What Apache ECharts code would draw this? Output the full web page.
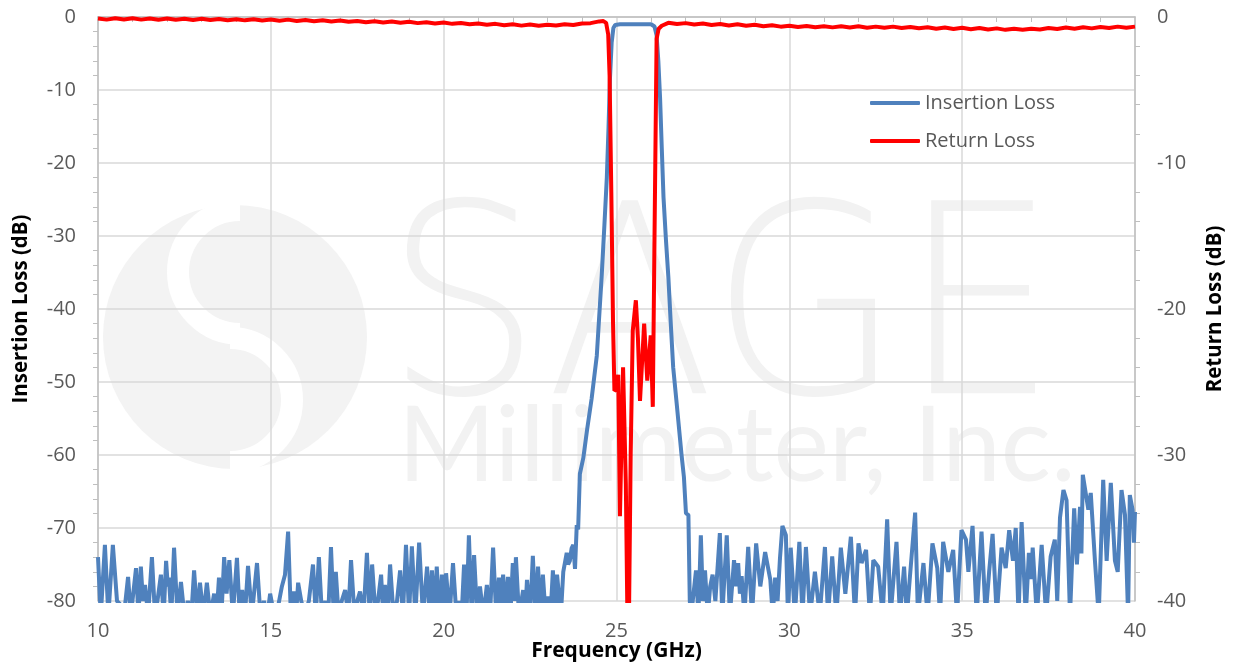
<!DOCTYPE html>
<html>
<head>
<meta charset="utf-8">
<script src="https://cdn.jsdelivr.net/npm/echarts@6/dist/echarts.min.js"></script>
<style>
  html, body { margin: 0; padding: 0; background: #fff; }
  #chart { width: 1236px; height: 664px; }
</style>
</head>
<body>
<div id="chart"></div>
<script>
  // insertion loss, [GHz, dB] - noise floor below passband
  var ilLow = [
    [10.00, -74], [10.08, -82], [10.20, -72.3], [10.30, -82], [10.43, -72.3], [10.55, -80], [10.65, -80.5],
    [10.75, -82], [10.87, -76.7], [10.95, -82], [11.10, -75.5], [11.17, -82], [11.24, -75.3], [11.30, -80],
    [11.36, -77.8], [11.45, -82], [11.56, -74], [11.65, -82], [11.72, -80], [11.82, -76.4], [11.90, -82],
    [11.97, -74.5], [12.02, -78], [12.05, -76.8], [12.12, -82], [12.20, -72.7], [12.30, -82], [12.40, -77.4],
    [12.50, -82], [12.60, -80], [12.70, -82], [12.78, -75.8], [12.87, -82], [12.95, -77.5], [13.05, -82],
    [13.15, -77.5], [13.25, -82], [13.36, -79], [13.43, -82], [13.50, -76.8], [13.57, -82], [13.65, -74],
    [13.72, -79], [13.80, -74.4], [13.90, -82], [14.02, -74.1], [14.10, -82], [14.17, -78.5], [14.25, -82],
    [14.34, -75.2], [14.45, -82], [14.60, -74.8], [14.70, -82], [14.80, -80], [14.90, -82], [14.98, -79],
    [15.10, -82], [15.20, -81], [15.32, -78], [15.41, -76.4], [15.50, -70.5], [15.58, -82], [15.67, -78.7],
    [15.73, -82], [15.79, -77.5], [15.88, -80], [15.98, -82], [16.10, -80], [16.22, -75], [16.30, -82],
    [16.39, -74], [16.48, -82], [16.58, -80], [16.66, -82], [16.74, -72.6], [16.82, -82], [16.88, -76],
    [16.96, -82], [17.05, -80], [17.15, -78.5], [17.24, -82], [17.32, -74.4], [17.42, -82], [17.50, -80],
    [17.58, -78.7], [17.68, -82], [17.78, -73.4], [17.86, -82], [17.93, -75], [18.03, -82], [18.10, -80],
    [18.19, -76.4], [18.25, -82], [18.30, -77.8], [18.38, -82], [18.45, -75], [18.55, -82], [18.65, -80],
    [18.74, -75.8], [18.82, -82], [18.91, -72.3], [19.00, -82], [19.08, -72.5], [19.18, -82], [19.29, -72],
    [19.40, -82], [19.52, -75.3], [19.59, -82], [19.66, -75.8], [19.73, -82], [19.80, -75.3], [19.88, -82],
    [19.95, -76.4], [20.01, -82], [20.07, -76.2], [20.17, -82], [20.27, -74.8], [20.37, -82], [20.45, -80],
    [20.52, -82], [20.59, -75], [20.66, -82], [20.73, -71], [20.81, -82], [20.88, -73.7], [20.97, -82],
    [21.05, -78], [21.15, -82], [21.25, -77.8], [21.34, -82], [21.43, -72.7], [21.52, -82], [21.60, -76.8],
    [21.66, -82], [21.72, -76.4], [21.79, -82], [21.86, -76.7], [21.93, -82], [22.00, -74.8], [22.05, -80],
    [22.09, -74], [22.18, -82], [22.30, -78.5], [22.36, -82], [22.41, -77.1], [22.50, -82], [22.58, -73.8],
    [22.66, -82], [22.73, -75.3], [22.80, -82], [22.87, -76.4], [22.95, -82], [23.02, -79.4], [23.09, -82],
    [23.16, -75.8], [23.22, -82], [23.28, -76.4], [23.39, -82], [23.46, -76], [23.56, -73.4], [23.60, -75],
    [23.65, -74.5], [23.70, -72.8], [23.75, -72.3], [23.80, -75.6]
  ];

  // insertion loss passband and skirts
  var ilPass = [
    [23.85, -69.6], [23.89, -70.2], [23.94, -62.6], [24.04, -60.4], [24.15, -56.5], [24.28, -52.3],
    [24.43, -46.4], [24.57, -35.6], [24.65, -28.5], [24.72, -22], [24.77, -15], [24.81, -8.5], [24.86, -3.5],
    [24.91, -1.5], [24.96, -1.1], [25.10, -1.0], [25.40, -1.0], [25.70, -1.0], [26.00, -1.0], [26.05, -1.1],
    [26.10, -1.3], [26.16, -2.5], [26.21, -6], [26.26, -11], [26.31, -18], [26.36, -24.7], [26.43, -30.5],
    [26.50, -35.6], [26.57, -42], [26.64, -48], [26.74, -52.9], [26.88, -59.9], [26.95, -63], [27.01, -68],
    [27.08, -68.2], [27.12, -80]
  ];

  // insertion loss noise floor above passband
  var ilHigh = [
    [27.16, -82], [27.30, -75.8], [27.37, -82], [27.44, -71], [27.50, -80], [27.56, -75.8], [27.64, -82],
    [27.71, -78], [27.78, -76.4], [27.86, -80], [27.99, -70.7], [28.06, -82], [28.19, -71], [28.28, -82],
    [28.40, -74.4], [28.46, -78], [28.52, -74.8], [28.57, -79], [28.62, -76.6], [28.70, -82], [28.81, -72.6],
    [28.92, -82], [29.04, -72.1], [29.16, -78], [29.30, -73.3], [29.45, -77.1], [29.52, -82], [29.59, -76.8],
    [29.66, -80], [29.73, -74.1], [29.80, -69.7], [29.90, -71], [29.96, -82], [30.04, -72.7], [30.16, -82],
    [30.29, -71.9], [30.38, -82], [30.48, -72.6], [30.60, -82], [30.74, -76], [30.88, -82], [31.03, -72.6],
    [31.12, -82], [31.24, -73.9], [31.36, -82], [31.49, -72.7], [31.62, -79], [31.78, -71.2], [31.90, -82],
    [32.00, -72.1], [32.09, -74.8], [32.22, -73], [32.33, -82], [32.43, -74.4], [32.57, -75.3], [32.70, -82],
    [32.83, -68.8], [32.93, -82], [33.10, -71.9], [33.20, -82], [33.32, -75.3], [33.40, -82], [33.49, -76.6],
    [33.64, -67.9], [33.72, -82], [33.88, -74.8], [34.00, -82], [34.14, -72.1], [34.28, -75.5], [34.36, -82],
    [34.45, -71.9], [34.60, -76], [34.74, -73], [34.85, -82], [34.98, -70.3], [35.11, -71.6], [35.18, -76],
    [35.30, -69.7], [35.42, -82], [35.56, -70.5], [35.68, -82], [35.78, -76], [35.88, -70.8], [36.00, -82],
    [36.14, -72.7], [36.26, -75.5], [36.36, -70.3], [36.47, -74.5], [36.55, -70], [36.63, -82], [36.72, -69.2],
    [36.84, -82], [36.93, -73.4], [37.00, -77], [37.04, -72.7], [37.16, -82], [37.30, -72.3], [37.43, -82],
    [37.56, -73.9], [37.68, -71.6], [37.75, -80], [37.83, -68.6], [37.93, -64.8], [38.02, -66.2], [38.12, -82],
    [38.24, -67.3], [38.32, -75], [38.41, -67.1], [38.45, -73.5], [38.49, -62.7], [38.65, -67.5], [38.72, -65.2],
    [38.84, -74.4], [38.95, -82], [39.08, -63.4], [39.18, -74.5], [39.30, -63.8], [39.42, -74.5], [39.50, -76],
    [39.61, -64.8], [39.71, -68.2], [39.80, -82], [39.85, -65.5], [39.93, -67.5], [39.97, -72], [40.00, -67.8]
  ];

  // return loss, [GHz, dB] on right axis
  var rlLow = [
    [10.00, -0.10], [10.25, -0.18], [10.50, -0.08], [10.75, -0.17], [11.00, -0.09], [11.25, -0.18],
    [11.50, -0.10], [11.75, -0.19], [12.00, -0.11], [12.25, -0.19], [12.50, -0.12], [12.75, -0.20],
    [13.00, -0.12], [13.25, -0.21], [13.50, -0.13], [13.75, -0.22], [14.00, -0.15], [14.25, -0.23],
    [14.50, -0.16], [14.75, -0.24], [15.00, -0.17], [15.25, -0.26], [15.50, -0.18], [15.75, -0.27],
    [16.00, -0.20], [16.25, -0.29], [16.50, -0.22], [16.75, -0.31], [17.00, -0.24], [17.25, -0.33],
    [17.50, -0.27], [17.75, -0.36], [18.00, -0.29], [18.25, -0.38], [18.50, -0.31], [18.75, -0.40],
    [19.00, -0.33], [19.25, -0.42], [19.50, -0.36], [19.75, -0.45], [20.00, -0.38], [20.25, -0.47],
    [20.50, -0.41], [20.75, -0.50], [21.00, -0.44], [21.25, -0.53], [21.50, -0.47], [21.75, -0.56],
    [22.00, -0.50], [22.25, -0.59], [22.50, -0.52], [22.75, -0.60], [23.00, -0.53], [23.25, -0.58],
    [23.50, -0.50], [23.75, -0.55], [24.00, -0.44], [24.25, -0.42], [24.50, -0.30], [24.62, -0.28]
  ];

  var rlPass = [
    [24.70, -0.40], [24.76, -1.2], [24.80, -4], [24.85, -12], [24.90, -21], [24.94, -25.6], [25.00, -25.5],
    [25.05, -24.5], [25.10, -34.2], [25.19, -24.0], [25.27, -32], [25.34, -46], [25.41, -30], [25.47, -21.5],
    [25.56, -19.4], [25.62, -22], [25.68, -26.3], [25.80, -21.0], [25.89, -24.9], [25.99, -21.8],
    [26.05, -26.7], [26.10, -15], [26.16, -1.5], [26.22, -0.8], [26.31, -0.6]
  ];

  var rlHigh = [
    [26.50, -0.40], [26.75, -0.48], [27.00, -0.42], [27.25, -0.52], [27.50, -0.45], [27.75, -0.55],
    [28.00, -0.48], [28.25, -0.58], [28.50, -0.50], [28.75, -0.60], [29.00, -0.53], [29.25, -0.63],
    [29.50, -0.56], [29.75, -0.66], [30.00, -0.60], [30.25, -0.68], [30.50, -0.62], [30.75, -0.70],
    [31.00, -0.63], [31.25, -0.71], [31.50, -0.64], [31.75, -0.72], [32.00, -0.64], [32.25, -0.73],
    [32.50, -0.66], [32.75, -0.74], [33.00, -0.66], [33.25, -0.75], [33.50, -0.68], [33.75, -0.77],
    [34.00, -0.70], [34.25, -0.80], [34.50, -0.72], [34.75, -0.82], [35.00, -0.74], [35.25, -0.84],
    [35.50, -0.76], [35.75, -0.86], [36.00, -0.78], [36.25, -0.88], [36.50, -0.80], [36.75, -0.88],
    [37.00, -0.80], [37.25, -0.86], [37.50, -0.76], [37.75, -0.82], [38.00, -0.72], [38.25, -0.80],
    [38.50, -0.70], [38.75, -0.78], [39.00, -0.68], [39.25, -0.76], [39.50, -0.66], [39.75, -0.74],
    [40.00, -0.66]
  ];

  var insertionLoss = ilLow.concat(ilPass, ilHigh);
  var returnLoss = rlLow.concat(rlPass, rlHigh);

  var labelFont = 'Open Sans';
  var gridColor = '#d9d9d9';
  var axisColor = '#bfbfbf';
  var wmColor = '#f2f2f2';

  var myChart = echarts.init(document.getElementById('chart'));
  myChart.setOption({
    animation: false,
    backgroundColor: '#fff',
    textStyle: {fontFamily: labelFont},
    grid: {left: 98, right: 101, top: 17, bottom: 63, containLabel: false, outerBoundsMode: 'none'},
    // watermark logo
    graphic: [
      {type: 'circle', z: -10, shape: {cx: 235, cy: 337, r: 132}, style: {fill: '#f3f3f3'}},
      {type: 'arc', z: -9, shape: {cx: 240, cy: 272, r: 62, startAngle: Math.PI * 0.5, endAngle: Math.PI * 1.5, clockwise: true},
        style: {stroke: '#fff', lineWidth: 22, fill: null}},
      {type: 'arc', z: -9, shape: {cx: 230, cy: 400, r: 62, startAngle: -Math.PI * 0.5, endAngle: Math.PI * 0.5, clockwise: true},
        style: {stroke: '#fff', lineWidth: 22, fill: null}},
      {type: 'text', z: -10, left: 385, top: 192, scaleX: 0.93,
        style: {text: 'SAGE', font: '200 265px "DejaVu Sans"', fill: wmColor}},
      {type: 'text', z: -10, left: 398, top: 395,
        style: {text: 'Millimeter, Inc.', font: '105px "Lato"', fill: wmColor}}
    ],
    legend: {
      orient: 'vertical',
      left: 865,
      top: 88,
      icon: 'roundRect',
      itemWidth: 50,
      itemHeight: 4,
      itemGap: 18,
      textStyle: {fontSize: 20, color: '#595959', fontFamily: labelFont},
      data: ['Insertion Loss', 'Return Loss']
    },
    xAxis: {
      type: 'value',
      min: 10,
      max: 40,
      interval: 5,
      name: 'Frequency (GHz)',
      nameLocation: 'middle',
      nameGap: 40,
      nameMoveOverlap: false,
      nameTextStyle: {fontSize: 21, fontWeight: 'bold', color: '#000', fontFamily: labelFont},
      axisLine: {show: true, lineStyle: {color: axisColor, width: 1.5}},
      axisTick: {show: false},
      minorTick: {show: true, splitNumber: 5, length: 5, lineStyle: {color: axisColor}},
      axisLabel: {fontSize: 20, color: '#595959', margin: 20},
      splitLine: {show: true, lineStyle: {color: gridColor, width: 1.5}}
    },
    yAxis: [
      {
        type: 'value',
        min: -80,
        max: 0,
        interval: 10,
        name: 'Insertion Loss (dB)',
        nameLocation: 'middle',
        nameRotate: 90,
        nameGap: 66,
        nameMoveOverlap: false,
        nameTextStyle: {fontSize: 20.5, fontWeight: 'bold', color: '#000', fontFamily: labelFont},
        axisLine: {show: true, lineStyle: {color: axisColor, width: 1.5}},
        axisTick: {show: false},
        minorTick: {show: true, splitNumber: 5, length: 5, lineStyle: {color: axisColor}},
        axisLabel: {fontSize: 20, color: '#595959', margin: 22},
        splitLine: {show: true, lineStyle: {color: gridColor, width: 1.5}}
      },
      {
        type: 'value',
        min: -40,
        max: 0,
        interval: 10,
        position: 'right',
        name: 'Return Loss (dB)',
        nameLocation: 'middle',
        nameRotate: 90,
        nameGap: 70,
        nameMoveOverlap: false,
        nameTextStyle: {fontSize: 20.5, fontWeight: 'bold', color: '#000', fontFamily: labelFont},
        axisLine: {show: true, lineStyle: {color: axisColor, width: 1.5}},
        axisTick: {show: false},
        minorTick: {show: true, splitNumber: 5, length: 5, lineStyle: {color: axisColor}},
        axisLabel: {fontSize: 20, color: '#595959', margin: 22},
        splitLine: {show: false}
      }
    ],
    series: [
      {
        name: 'Insertion Loss',
        type: 'line',
        yAxisIndex: 0,
        symbol: 'none',
        clip: true,
        data: insertionLoss,
        lineStyle: {color: '#4f81bd', width: 4},
        itemStyle: {color: '#4f81bd'}
      },
      {
        name: 'Return Loss',
        type: 'line',
        yAxisIndex: 1,
        symbol: 'none',
        clip: true,
        data: returnLoss,
        lineStyle: {color: '#ff0000', width: 4},
        itemStyle: {color: '#ff0000'}
      }
    ]
  });
</script>
</body>
</html>
